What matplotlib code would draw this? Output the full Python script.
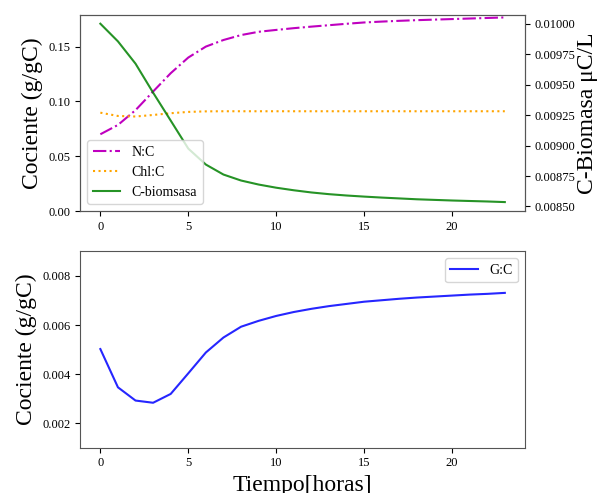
import matplotlib
matplotlib.use('Agg')
import matplotlib.pyplot as plt
import numpy as np

plt.rcParams['font.family'] = ['Liberation Serif', 'DejaVu Serif']
plt.rcParams['mathtext.fontset'] = 'stix'

# tiempo en horas
t = np.arange(24)

nc = [0.0700, 0.0785, 0.0920, 0.1090, 0.1257, 0.1400, 0.1500, 0.1560,
      0.1605, 0.1635, 0.1652, 0.1668, 0.1682, 0.1695, 0.1708, 0.1720,
      0.1728, 0.1735, 0.1741, 0.1746, 0.1751, 0.1756, 0.1761, 0.1766]

chlc = [0.0897, 0.0867, 0.0862, 0.0876, 0.0892, 0.0904, 0.0909, 0.0910,
        0.0910, 0.0910, 0.0910, 0.0910, 0.0910, 0.0910, 0.0910, 0.0910,
        0.0910, 0.0910, 0.0910, 0.0910, 0.0910, 0.0910, 0.0910, 0.0910]

cbio = [0.010000, 0.009855, 0.009672, 0.009434, 0.009205, 0.008975,
        0.008844, 0.008762, 0.008713, 0.008680, 0.008654, 0.008633,
        0.008615, 0.008601, 0.008590, 0.008581, 0.008573, 0.008566,
        0.008559, 0.008554, 0.008549, 0.008545, 0.008541, 0.008536]

gc = [0.00502, 0.00346, 0.00292, 0.00283, 0.00319, 0.00403, 0.00488,
      0.00549, 0.00593, 0.00617, 0.00637, 0.00653, 0.00666, 0.00677,
      0.00686, 0.00695, 0.00701, 0.00707, 0.00712, 0.00716, 0.00720,
      0.00724, 0.00727, 0.00731]

fig = plt.figure(figsize=(5.98, 4.93), dpi=100)
ax1 = fig.add_axes([0.134, 0.572, 0.744, 0.398])
ax3 = fig.add_axes([0.134, 0.092, 0.744, 0.398])

l1, = ax1.plot(t, nc, 'm-.', lw=1.5, label='N:C')
l2, = ax1.plot(t, chlc, ':', color='orange', lw=1.5, label='Chl:C')
ax1.set_ylim(0, 0.179)
ax1.set_ylabel('Cociente (g/gC)', fontsize=17)

ax2 = ax1.twinx()
l3, = ax2.plot(t, cbio, '-', color='green', lw=1.5, alpha=0.85, label='C-biomsasa')
ax2.set_ylabel('C-Biomasa μC/L', fontsize=17, labelpad=1)
ax2.legend(handles=[l1, l2, l3], loc='lower left', fontsize=10)

ax3.plot(t, gc, 'b-', lw=1.5, alpha=0.85, label='G:C')
ax3.set_ylim(0.001, 0.009)
ax3.set_yticks([0.002, 0.004, 0.006, 0.008])
ax3.set_ylabel('Cociente (g/gC)', fontsize=17)
ax3.set_xlabel('Tiempo[horas]', fontsize=17, labelpad=4)
ax3.legend(loc='upper right', fontsize=10)

for ax in (ax1, ax2, ax3):
    ax.tick_params(labelsize=9)
    for s in ax.spines.values():
        s.set_color('#555555')

plt.savefig('out.png', dpi=100)
